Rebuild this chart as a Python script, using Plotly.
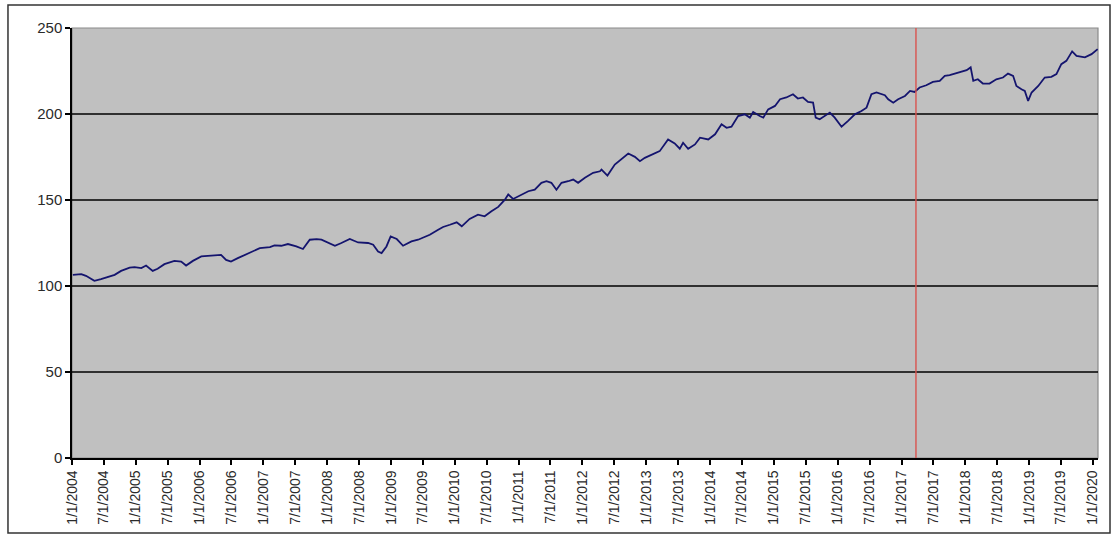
import pandas as pd
import plotly.graph_objects as go

# ---- data ----
dates = [
    "2004-01-06", "2004-02-23", "2004-03-21", "2004-05-08", "2004-06-15", "2004-07-23",
    "2004-09-01", "2004-10-08", "2004-11-26", "2004-12-24", "2005-02-01", "2005-02-28",
    "2005-04-07", "2005-05-05", "2005-06-13", "2005-08-09", "2005-09-17", "2005-10-15",
    "2005-11-23", "2006-01-10", "2006-03-06", "2006-05-03", "2006-06-01", "2006-06-29",
    "2006-08-07", "2006-10-03", "2006-10-24", "2006-12-11", "2007-02-07", "2007-03-05",
    "2007-04-13", "2007-05-21", "2007-07-08", "2007-08-15", "2007-09-23", "2007-11-01",
    "2007-11-29", "2008-01-06", "2008-02-14", "2008-03-22", "2008-05-09", "2008-06-26",
    "2008-08-22", "2008-09-20", "2008-10-18", "2008-11-07", "2008-12-05", "2008-12-29",
    "2009-02-02", "2009-03-10", "2009-04-27", "2009-06-04", "2009-07-12", "2009-08-10",
    "2009-09-27", "2009-10-25", "2009-12-03", "2010-01-11", "2010-02-09", "2010-03-26",
    "2010-05-13", "2010-06-20", "2010-07-29", "2010-09-06", "2010-10-14", "2010-11-02",
    "2010-11-30", "2011-01-08", "2011-02-25", "2011-04-03", "2011-05-11", "2011-06-09",
    "2011-07-07", "2011-08-05", "2011-09-03", "2011-10-11", "2011-11-09", "2011-12-07",
    "2012-01-15", "2012-03-02", "2012-04-10", "2012-04-19", "2012-05-23", "2012-07-04",
    "2012-08-12", "2012-09-19", "2012-10-27", "2012-11-25", "2012-12-23", "2013-02-10",
    "2013-03-18", "2013-05-05", "2013-06-12", "2013-07-11", "2013-07-30", "2013-08-28",
    "2013-10-06", "2013-11-04", "2013-12-21", "2014-01-29", "2014-03-07", "2014-04-05",
    "2014-05-03", "2014-06-10", "2014-07-18", "2014-08-16", "2014-09-04", "2014-10-12",
    "2014-11-01", "2014-11-29", "2015-01-07", "2015-02-05", "2015-03-13", "2015-04-20",
    "2015-05-18", "2015-06-16", "2015-07-15", "2015-08-13", "2015-08-28", "2015-09-20",
    "2015-10-19", "2015-11-17", "2015-12-15", "2016-01-23", "2016-02-28", "2016-04-08",
    "2016-05-16", "2016-06-14", "2016-07-12", "2016-08-10", "2016-09-27", "2016-10-16",
    "2016-11-14", "2016-12-12", "2017-01-20", "2017-02-18", "2017-03-16", "2017-04-14",
    "2017-05-22", "2017-06-29", "2017-08-07", "2017-09-05", "2017-10-03", "2017-10-22",
    "2017-11-30", "2018-01-08", "2018-01-31", "2018-02-15", "2018-03-13", "2018-04-11",
    "2018-05-19", "2018-06-27", "2018-08-04", "2018-09-02", "2018-10-01", "2018-10-20",
    "2018-11-18", "2018-12-07", "2018-12-26", "2019-01-15", "2019-02-22", "2019-03-31",
    "2019-05-08", "2019-06-06", "2019-07-04", "2019-08-02", "2019-09-04", "2019-09-29",
    "2019-11-16", "2019-12-24", "2020-01-28",
]
values = [
    106.5, 106.9, 105.9, 103.0, 104.0, 105.0,
    106.5, 108.8, 110.7, 111.0, 110.4, 111.9,
    108.8, 110.0, 112.7, 114.6, 114.2, 111.9,
    114.6, 117.2, 117.7, 118.1, 115.2, 114.2,
    116.2, 118.8, 120.0, 122.0, 122.6, 123.6,
    123.4, 124.4, 123.0, 121.5, 126.9, 127.3,
    126.9, 125.0, 123.4, 125.0, 127.3, 125.3,
    125.0, 124.0, 120.0, 119.1, 123.0, 128.8,
    127.3, 123.4, 125.9, 126.9, 128.5, 129.8,
    132.7, 134.3, 135.6, 137.0, 134.7, 139.0,
    141.5, 140.5, 143.4, 146.0, 150.2, 153.2,
    150.6, 152.6, 155.1, 156.0, 160.0, 160.9,
    160.0, 156.0, 160.0, 160.9, 161.9, 160.0,
    162.9, 165.8, 166.7, 167.7, 164.2, 170.6,
    173.6, 177.0, 175.1, 172.6, 174.5, 176.5,
    178.4, 185.2, 182.9, 179.8, 183.3, 179.8,
    182.3, 186.2, 185.2, 188.2, 194.0, 192.0,
    192.6, 198.8, 199.8, 197.9, 201.2, 198.8,
    197.9, 202.7, 204.7, 208.6, 209.6, 211.5,
    209.0, 209.6, 207.0, 206.6, 197.9, 196.9,
    198.8, 200.8, 197.9, 192.6, 195.9, 199.8,
    201.7, 203.7, 211.5, 212.5, 210.9, 208.6,
    206.6, 208.6, 210.5, 213.4, 212.8, 215.4,
    216.7, 218.7, 219.3, 222.2, 222.6, 223.2,
    224.1, 225.5, 227.1, 219.3, 220.2, 217.7,
    217.7, 220.2, 221.2, 223.5, 222.2, 216.3,
    214.4, 213.4, 207.6, 212.5, 216.3, 221.2,
    221.6, 223.2, 229.0, 230.9, 236.4, 233.8,
    232.9, 234.8, 237.7,
]

tick_labels = [
    "1/1/2004", "7/1/2004", "1/1/2005", "7/1/2005", "1/1/2006", "7/1/2006",
    "1/1/2007", "7/1/2007", "1/1/2008", "7/1/2008", "1/1/2009", "7/1/2009",
    "1/1/2010", "7/1/2010", "1/1/2011", "7/1/2011", "1/1/2012", "7/1/2012",
    "1/1/2013", "7/1/2013", "1/1/2014", "7/1/2014", "1/1/2015", "7/1/2015",
    "1/1/2016", "7/1/2016", "1/1/2017", "7/1/2017", "1/1/2018", "7/1/2018",
    "1/1/2019", "7/1/2019", "1/1/2020",
]
y_ticks = [0, 50, 100, 150, 200, 250]
grid_levels = [50, 100, 150, 200]
marker_date = "2017-03-24"
x_start = "2004-01-01"
x_end = "2020-01-30"

tick_vals = pd.to_datetime(tick_labels, format="%m/%d/%Y")

fig = go.Figure()
fig.add_trace(go.Scatter(
    x=pd.to_datetime(dates), y=values, mode="lines",
    line=dict(color="#14146e", width=1.8), showlegend=False, hoverinfo="skip",
))

shapes = []
# plot-area frame (gray, top/right visible)
shapes.append(dict(type="rect", xref="paper", yref="paper", x0=0, x1=1, y0=0, y1=1,
                   line=dict(color="#8a8a8a", width=1.2), layer="below"))
for g in grid_levels:
    shapes.append(dict(type="line", xref="paper", yref="y", x0=0, x1=1, y0=g, y1=g,
                       line=dict(color="#000000", width=1.5), layer="below"))
# red vertical marker
shapes.append(dict(type="line", xref="x", yref="y", x0=marker_date, x1=marker_date,
                   y0=0, y1=250, line=dict(color="#d9534f", width=1.4), layer="above"))
# outer chart border
shapes.append(dict(type="rect", xref="paper", yref="paper",
                   x0=-0.0624, x1=1.0117, y0=-0.1746, y1=1.0536,
                   line=dict(color="#333333", width=1.5), layer="above"))

fig.update_layout(
    width=1112, height=536,
    margin=dict(l=72, r=14, t=28, b=78),
    paper_bgcolor="#ffffff",
    plot_bgcolor="#c0c0c0",
    font=dict(family="Liberation Sans, Arial, sans-serif", size=14, color="#2a2a2a"),
    shapes=shapes,
    showlegend=False,
)
fig.update_xaxes(
    type="date", range=[x_start, x_end],
    tickvals=tick_vals, ticktext=tick_labels, tickangle=-90,
    ticks="outside", ticklen=5, tickwidth=1.5, tickcolor="#000000",
    showline=True, linecolor="#000000", linewidth=1.5,
    showgrid=False, zeroline=False,
    tickfont=dict(size=14),
)
fig.update_yaxes(
    range=[0, 250], tickvals=y_ticks,
    ticks="outside", ticklen=5, tickwidth=1.5, tickcolor="#000000",
    showline=True, linecolor="#000000", linewidth=1.5,
    showgrid=False, zeroline=False,
    tickfont=dict(size=15),
)

fig.write_html(
    "out.html",
    config={"displayModeBar": False},
    post_script="document.body.style.margin='0px';document.body.style.padding='0px';",
)
